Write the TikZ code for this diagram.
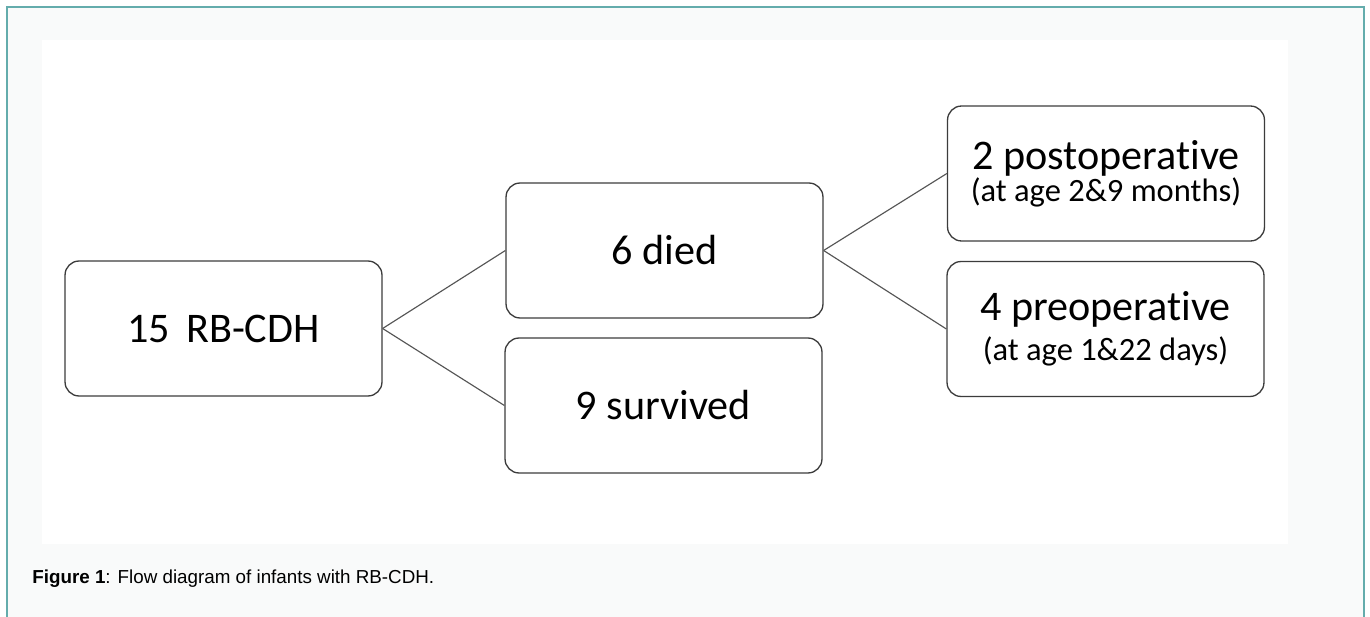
\documentclass[tikz,border=0pt]{standalone}
\usepackage{xcolor}
\usepackage{fontspec}
\usepackage{tikz}
\setmainfont{Carlito}[Ligatures={NoCommon}]
\newfontfamily\capfont{Liberation Sans}
\definecolor{frameteal}{RGB}{100, 172, 172}
\definecolor{panelgray}{RGB}{249, 250, 250}
\definecolor{boxline}{RGB}{60, 60, 60}
\definecolor{linkgray}{RGB}{85, 85, 85}

\tikzset{
  flowbox/.style={draw=boxline, line width=0.75pt, rounded corners=8pt,
    fill=white, minimum width=6.34cm, minimum height=2.7cm, align=center,
    font=\fontsize{24}{29}\selectfont},
  link/.style={draw=linkgray, line width=0.65pt}
}
\newcommand{\agenote}[1]{{\fontsize{18.5}{22}\selectfont #1}}

\begin{document}
\begin{tikzpicture}[x=0.02cm, y=-0.02cm]
    \useasboundingbox (0,0) rectangle (1370,617);
    \fill[white] (0,0) rectangle (1370,617);
    \fill[panelgray] (7,7) rectangle (1364,617);
    \draw[frameteal, line width=1.2pt] (7,617) -- (7,7) -- (1364,7) -- (1364,617);
    \fill[white] (42,40) rectangle (1288,544);

    %% the boxes
    \node[flowbox] (total) at (223.5,328.5) {15\hspace{0.38em}RB-CDH};
    \node[flowbox] (died) at (664.5,250.5) {6 died};
    \node[flowbox] (surv) at (663.5,405.5) {9 survived};
    \node[flowbox] (post) at (1106,173.5)
      {2 postoperative\\[-11pt]\agenote{(at age 2\&9 months)}};
    \node[flowbox] (pre) at (1105.5,329)
      {4 preoperative\\[-6.5pt]\agenote{(at age 1\&22 days)}};

    %% connectors
    \draw[link] (total.east) -- (died.west);
    \draw[link] (total.east) -- (surv.west);
    \draw[link] (died.east) -- (post.west);
    \draw[link] (died.east) -- (pre.west);

    \node[anchor=west, font=\capfont\fontsize{10.7}{13}\selectfont, inner sep=0pt]
      (caption) at (32,579) {\textbf{Figure 1}: Flow diagram of infants with RB-CDH.};
  \end{tikzpicture}
\end{document}
